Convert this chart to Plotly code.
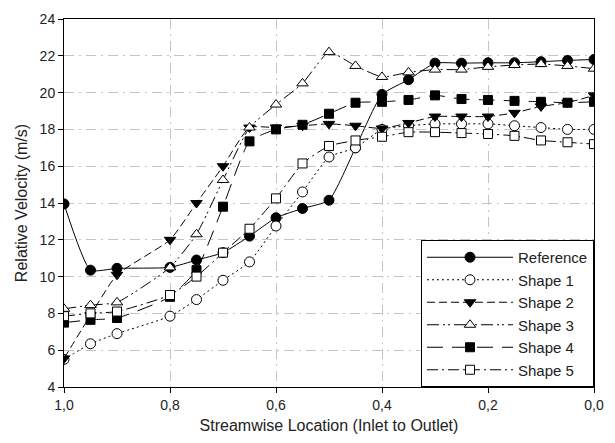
import plotly.graph_objects as go

x_loc = [1.0, 0.95, 0.9, 0.8, 0.75, 0.7, 0.65, 0.6, 0.55, 0.5, 0.45, 0.4, 0.35, 0.3, 0.25, 0.2, 0.15, 0.1, 0.05, 0.0]

reference = [13.95, 10.35, 10.45, 10.5, 10.9, 11.3, 12.2, 13.2, 13.7, 14.15, 17.0, 19.9, 20.7, 21.6, 21.6, 21.62, 21.62, 21.68, 21.75, 21.8]
shape1 = [5.5, 6.35, 6.9, 7.85, 8.75, 9.8, 10.8, 12.75, 14.6, 16.5, 17.0, 18.0, 18.2, 18.3, 18.3, 18.3, 18.2, 18.1, 18.0, 18.0]
shape2 = [5.55, 7.9, 10.1, 12.0, 14.0, 16.0, 18.1, 18.1, 18.2, 18.3, 18.2, 18.05, 18.35, 18.7, 18.7, 18.7, 18.9, 19.25, 19.45, 19.85]
shape3 = [8.25, 8.45, 8.6, 10.5, 12.3, 15.25, 18.1, 19.35, 20.5, 22.2, 21.45, 20.85, 21.1, 21.25, 21.25, 21.4, 21.5, 21.55, 21.45, 21.3]
shape4 = [7.5, 7.65, 7.75, 8.9, 10.35, 13.8, 17.35, 18.0, 18.25, 18.85, 19.45, 19.5, 19.6, 19.85, 19.65, 19.6, 19.55, 19.5, 19.45, 19.5]
shape5 = [7.85, 8.0, 8.1, 9.0, 10.0, 11.3, 12.6, 14.25, 16.15, 17.1, 17.4, 17.6, 17.85, 17.85, 17.8, 17.75, 17.65, 17.4, 17.3, 17.2]

names = ["Reference", "Shape 1", "Shape 2", "Shape 3", "Shape 4", "Shape 5"]
series = [reference, shape1, shape2, shape3, shape4, shape5]
symbols = ["circle", "circle", "triangle-down", "triangle-up", "square", "square"]
fills = ["black", "white", "black", "white", "black", "white"]
dashes = ["solid", "2px,3px", "8px,4px", "12px,4px,2px,3px,2px,4px", "16px,9px", "11px,4px,2px,4px"]
msizes = [10, 10, 10, 10, 9, 9]

x_ticks = [1.0, 0.8, 0.6, 0.4, 0.2, 0.0]
x_ticktext = ["1,0", "0,8", "0,6", "0,4", "0,2", "0,0"]
y_ticks = [4, 6, 8, 10, 12, 14, 16, 18, 20, 22, 24]

fig = go.Figure()
for name, ys, sym, fill, dash, ms in zip(names, series, symbols, fills, dashes, msizes):
    fig.add_trace(go.Scatter(
        x=x_loc, y=ys, name=name, mode="lines+markers",
        line=dict(color="black", width=1, dash=dash, shape="spline", smoothing=0.5),
        marker=dict(symbol=sym, size=ms, color=fill,
                    line=dict(color="black", width=1)),
    ))

font_family = "Liberation Sans, Arial, sans-serif"
fig.update_layout(
    width=615, height=443,
    margin=dict(l=64, r=11, t=11, b=54),
    paper_bgcolor="white", plot_bgcolor="white",
    font=dict(family=font_family, color="#222", size=14),
    showlegend=True,
    legend=dict(
        x=1, y=0, xanchor="right", yanchor="bottom",
        bgcolor="white", bordercolor="black", borderwidth=1,
        font=dict(size=15, family=font_family, color="#222"),
        itemwidth=86, tracegroupgap=0,
    ),
    xaxis=dict(
        range=[1.0, 0.0], tickvals=x_ticks, ticktext=x_ticktext,
        showline=True, linecolor="black", linewidth=1, mirror=True,
        ticks="outside", ticklen=5, tickcolor="black",
        showgrid=True, gridcolor="#c4c4c4", gridwidth=1, griddash="10px,5px,2px,5px",
        zeroline=False,
        title=dict(text="Streamwise Location (Inlet to Outlet)", font=dict(size=16), standoff=8),
    ),
    yaxis=dict(
        range=[4, 24], tickvals=y_ticks,
        showline=True, linecolor="black", linewidth=1, mirror=True,
        ticks="outside", ticklen=5, tickcolor="black",
        showgrid=True, gridcolor="#c4c4c4", gridwidth=1, griddash="10px,5px,2px,5px",
        zeroline=False,
        title=dict(text="Relative Velocity (m/s)", font=dict(size=16), standoff=8),
    ),
)

fig.write_html("out.html")
